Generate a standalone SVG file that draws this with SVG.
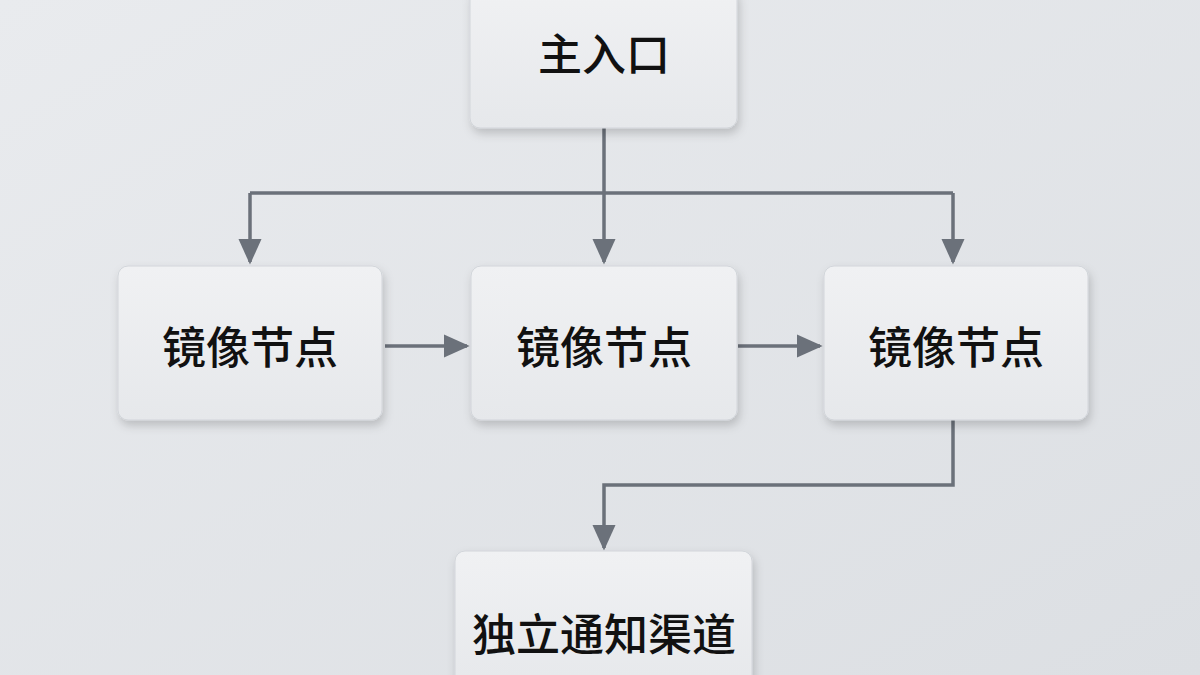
<svg xmlns="http://www.w3.org/2000/svg" width="1200" height="675" viewBox="0 0 1200 675">
<defs>
<linearGradient id="bg" x1="0" y1="0" x2="1" y2="1"><stop offset="0" stop-color="#e9ebee"/><stop offset="1" stop-color="#dcdfe3"/></linearGradient>
<linearGradient id="bx" x1="0" y1="0" x2="0" y2="1"><stop offset="0" stop-color="#f0f1f3"/><stop offset="1" stop-color="#e6e8eb"/></linearGradient>
<filter id="sh" x="-20%" y="-20%" width="140%" height="150%"><feDropShadow dx="2" dy="5" stdDeviation="5" flood-color="#000" flood-opacity="0.18"/></filter>
<marker id="ah" viewBox="0 0 20 20" refX="18" refY="10" markerWidth="26" markerHeight="26" markerUnits="userSpaceOnUse" orient="auto"><path d="M0,1 L20,10 L0,19 z" fill="#6b717a"/></marker>
</defs>
<style>
.box{fill:url(#bx);stroke:#d2d5da;stroke-width:1;filter:url(#sh)}
.t{font-family:"Noto Sans CJK SC","Noto Sans",sans-serif;font-size:44px;font-weight:500;fill:#111;text-anchor:middle;dominant-baseline:central}
.c{fill:none;stroke:#6b717a;stroke-width:3.5}
</style>
<rect width="1200" height="675" fill="url(#bg)"/>
<g id="connectors" class="c">
<path d="M604,128 V193"/>
<path d="M250,193 H953"/>
<path d="M250,193 V262" marker-end="url(#ah)"/>
<path d="M604,193 V262" marker-end="url(#ah)"/>
<path d="M953,193 V262" marker-end="url(#ah)"/>
<path d="M385,346 H467" marker-end="url(#ah)"/>
<path d="M738,346 H820" marker-end="url(#ah)"/>
<path d="M953,420 V485 H604 V548" marker-end="url(#ah)"/>
</g>
<g id="n0"><rect class="box" x="470" y="-12" width="267" height="140" rx="10"/><text class="t" x="604" y="52">主入口</text></g>
<g id="n1"><rect class="box" x="118" y="266" width="264" height="154" rx="10"/><text class="t" x="250" y="345">镜像节点</text></g>
<g id="n2"><rect class="box" x="471" y="266" width="266" height="154" rx="10"/><text class="t" x="604" y="345">镜像节点</text></g>
<g id="n3"><rect class="box" x="824" y="266" width="264" height="154" rx="10"/><text class="t" x="956" y="345">镜像节点</text></g>
<g id="n4"><rect class="box" x="455" y="551" width="297" height="140" rx="10"/><text class="t" x="604" y="632">独立通知渠道</text></g>
</svg>
